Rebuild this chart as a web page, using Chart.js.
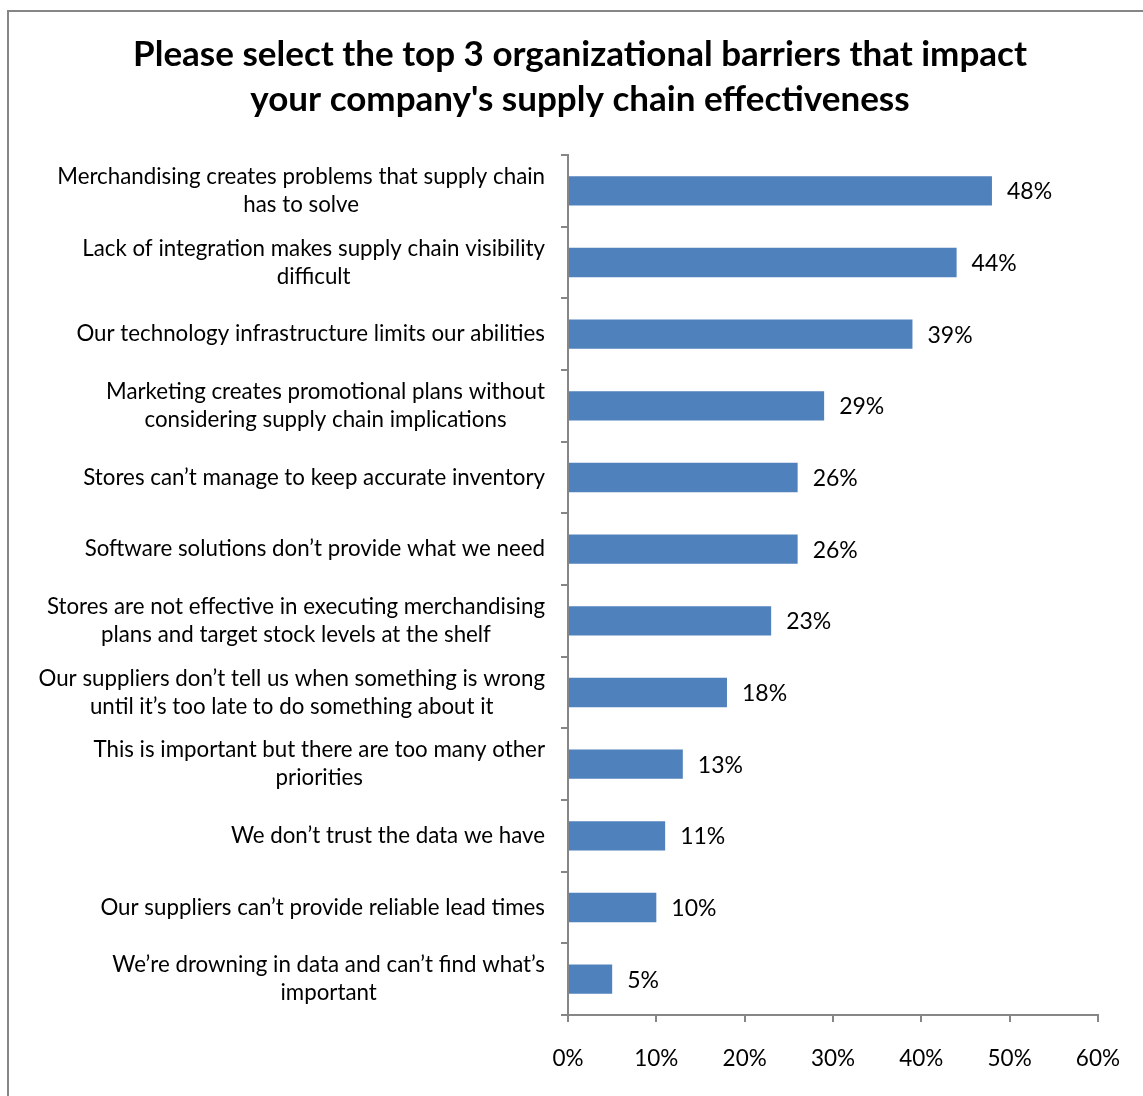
<!DOCTYPE html>
<html>
<head>
<meta charset="utf-8">
<script src="https://cdn.jsdelivr.net/npm/chart.js@4/dist/chart.umd.min.js"></script>
<style>
  body { margin: 0; background: #fff; }
  #wrap { width: 1143px; height: 1096px; }
</style>
</head>
<body>
<div id="wrap"><canvas id="barriersChart" width="1143" height="1096"></canvas></div>
<script>
const titleLines = [
    "Please select the top 3 organizational barriers that impact",
    "your company's supply chain effectiveness"
];

const barriers = [
    ["Merchandising creates problems that supply chain", "has to solve"],
    ["Lack of integration makes supply chain visibility", "difficult"],
    ["Our technology infrastructure limits our abilities"],
    ["Marketing creates promotional plans without", "considering supply chain implications"],
    ["Stores can\u2019t manage to keep accurate inventory"],
    ["Software solutions don\u2019t provide what we need"],
    ["Stores are not effective in executing merchandising", "plans and target stock levels at the shelf"],
    ["Our suppliers don\u2019t tell us when something is wrong", "until it\u2019s too late to do something about it"],
    ["This is important but there are too many other", "priorities"],
    ["We don\u2019t trust the data we have"],
    ["Our suppliers can\u2019t provide reliable lead times"],
    ["We\u2019re drowning in data and can\u2019t find what\u2019s", "important"]
];

const shares = [48, 44, 39, 29, 26, 26, 23, 18, 13, 11, 10, 5];

const pctTicks = [0, 10, 20, 30, 40, 50, 60];

const FONT = "Lato, 'Open Sans', sans-serif";
const AXIS_GREY = "#868686";
const BAR_BLUE = "#4F81BD";

// frame, title, wrapped category labels and value labels
const chartDecor = {
    id: "chartDecor",
    beforeDraw(chart) {
        const ctx = chart.ctx;
        ctx.save();
        ctx.fillStyle = "#fff";
        ctx.fillRect(0, 0, chart.width, chart.height);
        ctx.strokeStyle = AXIS_GREY;
        ctx.lineWidth = 2;
        ctx.strokeRect(8, 11, chart.width + 20, chart.height + 20);
        ctx.restore();
    },
    afterDraw(chart) {
        const ctx = chart.ctx;
        const yScale = chart.scales.y;
        ctx.save();
        ctx.fillStyle = "#000";

        // title
        ctx.font = "bold 35px " + FONT;
        ctx.textAlign = "center";
        ctx.textBaseline = "middle";
        titleLines.forEach((line, i) => {
            ctx.fillText(line, 580, 55 + i * 45);
        });

        // category labels: block right-aligned to the axis, lines centred in the block
        ctx.font = "22.3px " + FONT;
        const rightEdge = yScale.right - 23;
        const lineH = 28;
        barriers.forEach((lines, i) => {
            const yc = yScale.getPixelForTick(i);
            const w = Math.max(...lines.map(l => ctx.measureText(l).width));
            const cx = rightEdge - w / 2;
            lines.forEach((l, k) => {
                ctx.fillText(l, cx, yc + (k - (lines.length - 1) / 2) * lineH);
            });
        });

        // value labels
        ctx.font = "23px " + FONT;
        ctx.textAlign = "left";
        const meta = chart.getDatasetMeta(0);
        meta.data.forEach((bar, i) => {
            ctx.fillText(shares[i] + "%", bar.x + 15, bar.y + 1);
        });
        ctx.restore();
    }
};

new Chart(document.getElementById("barriersChart"), {
    type: "bar",
    data: {
        labels: barriers,
        datasets: [{
            data: shares,
            backgroundColor: BAR_BLUE,
            borderWidth: 0,
            categoryPercentage: 1.0,
            barPercentage: 0.41
        }]
    },
    options: {
        indexAxis: "y",
        responsive: false,
        animation: false,
        layout: {
            padding: { top: 155, right: 45, bottom: 21, left: 0 }
        },
        scales: {
            y: {
                grid: {
                    drawOnChartArea: false,
                    drawTicks: true,
                    tickLength: 7,
                    color: AXIS_GREY,
                    lineWidth: 2
                },
                border: { color: AXIS_GREY, width: 2 },
                ticks: { display: false },
                afterFit: scale => { scale.width = 568; }
            },
            x: {
                min: pctTicks[0],
                max: pctTicks[pctTicks.length - 1],
                grid: {
                    drawOnChartArea: false,
                    drawTicks: true,
                    tickLength: 7,
                    color: AXIS_GREY,
                    lineWidth: 2
                },
                border: { color: AXIS_GREY, width: 2 },
                ticks: {
                    stepSize: 10,
                    padding: 23,
                    color: "#000",
                    font: { family: FONT, size: 22.5 },
                    maxRotation: 0,
                    callback: v => v + "%"
                },
                afterFit: scale => { scale.height = 60; }
            }
        },
        plugins: {
            legend: { display: false },
            title: { display: false },
            tooltip: { enabled: false }
        }
    },
    plugins: [chartDecor]
});
</script>
</body>
</html>
